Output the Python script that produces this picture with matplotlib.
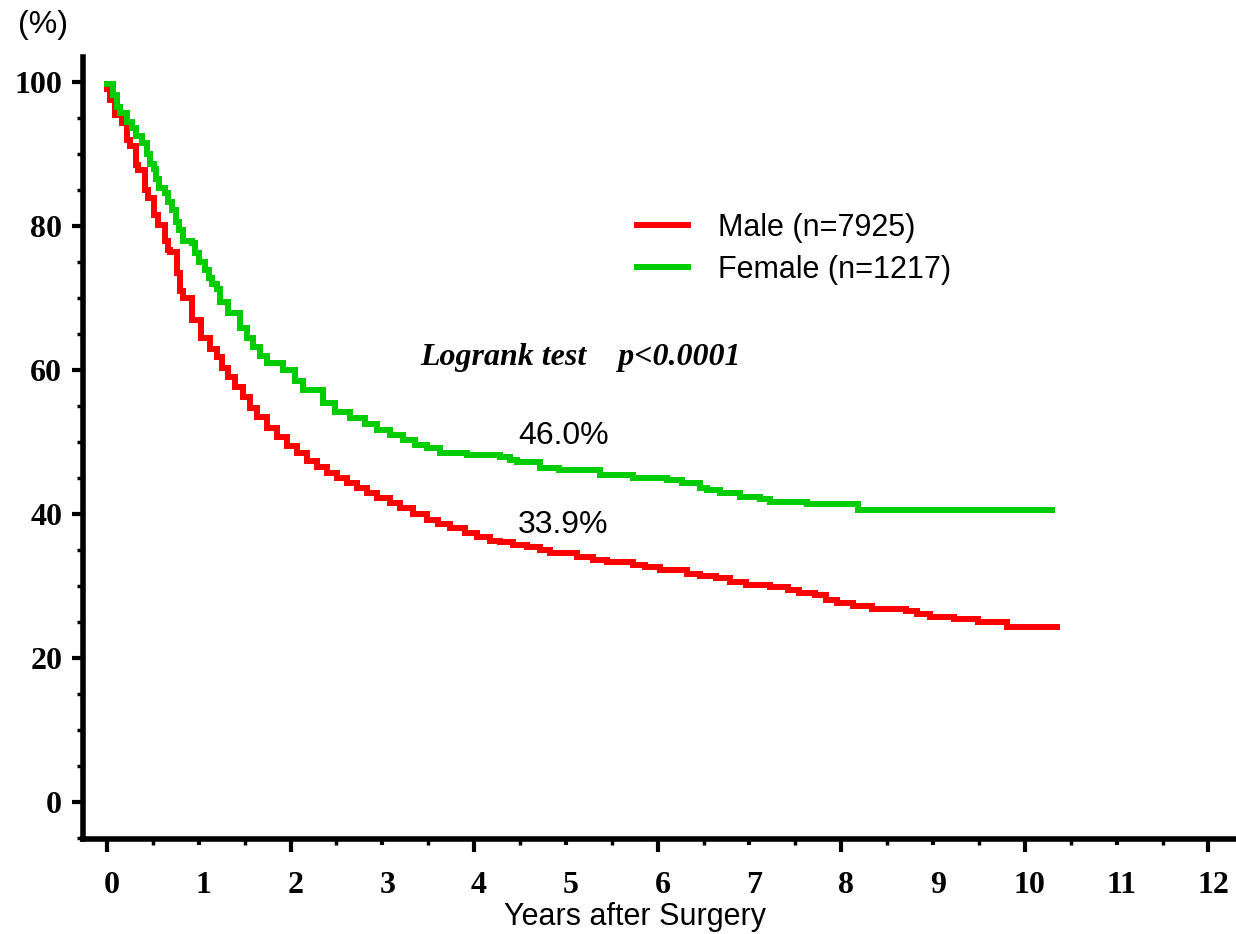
import matplotlib.pyplot as plt
from matplotlib.ticker import MultipleLocator
from matplotlib.transforms import ScaledTranslation

# Kaplan-Meier style survival (years, %)
male_years = [0.0, 0.03, 0.09, 0.16, 0.22, 0.25, 0.32, 0.34, 0.41, 0.45, 0.51, 0.56,
              0.63, 0.66, 0.69, 0.76, 0.80, 0.83, 0.93, 1.03, 1.12, 1.20, 1.25, 1.32,
              1.39, 1.48, 1.56, 1.63, 1.74, 1.85, 1.96, 2.07, 2.18, 2.29, 2.40, 2.51,
              2.61, 2.72, 2.83, 2.94, 3.08, 3.19, 3.33, 3.49, 3.61, 3.74, 3.90, 4.03,
              4.17, 4.28, 4.42, 4.58, 4.72, 4.83, 5.12, 5.29, 5.45, 5.73, 5.86, 6.02,
              6.32, 6.46, 6.64, 6.79, 6.96, 7.22, 7.42, 7.54, 7.71, 7.83, 7.95, 8.13,
              8.33, 8.70, 8.82, 8.97, 9.23, 9.49, 9.81, 10.35]
male_surv = [99.0, 97.5, 95.5, 94.3, 92.0, 91.2, 88.5, 87.8, 85.0, 83.9, 81.5, 80.1,
             78.0, 76.7, 76.4, 73.5, 71.0, 70.0, 67.0, 64.4, 63.0, 61.8, 60.3, 59.0,
             57.7, 56.3, 54.8, 53.5, 52.0, 50.7, 49.5, 48.5, 47.4, 46.5, 45.7, 45.0,
             44.3, 43.6, 42.9, 42.2, 41.5, 40.8, 40.0, 39.2, 38.6, 38.0, 37.4, 36.8,
             36.3, 36.1, 35.7, 35.4, 35.0, 34.6, 34.0, 33.6, 33.3, 32.9, 32.6, 32.2,
             31.7, 31.4, 31.1, 30.6, 30.1, 29.8, 29.4, 29.0, 28.7, 28.0, 27.6, 27.2,
             26.8, 26.5, 26.1, 25.7, 25.4, 25.0, 24.3, 24.3]

female_years = [0.0, 0.065, 0.11, 0.14, 0.22, 0.27, 0.32, 0.38, 0.44, 0.47, 0.51, 0.54,
                0.57, 0.63, 0.66, 0.71, 0.75, 0.78, 0.83, 0.93, 0.96, 1.0, 1.07, 1.11,
                1.15, 1.20, 1.23, 1.32, 1.45, 1.53, 1.59, 1.67, 1.74, 1.92, 2.05, 2.14,
                2.35, 2.48, 2.65, 2.81, 2.94, 3.08, 3.22, 3.36, 3.49, 3.63, 3.92, 4.28,
                4.39, 4.47, 4.72, 4.93, 5.37, 5.73, 6.10, 6.27, 6.46, 6.54, 6.68, 6.90,
                7.11, 7.22, 7.63, 8.18, 10.30]
female_surv = [99.8, 98.2, 96.5, 95.7, 94.5, 93.7, 92.5, 91.5, 90.0, 88.7, 88.0, 86.5,
               85.3, 84.6, 83.3, 82.2, 80.6, 79.5, 78.0, 77.6, 76.2, 75.0, 73.9, 72.8,
               72.0, 71.3, 69.5, 67.9, 65.8, 64.5, 63.2, 62.0, 61.0, 60.0, 58.5, 57.2,
               55.4, 54.2, 53.3, 52.5, 51.7, 51.0, 50.3, 49.6, 49.2, 48.5, 48.2, 47.9,
               47.5, 47.2, 46.4, 46.1, 45.4, 45.0, 44.7, 44.3, 43.6, 43.3, 42.9, 42.4,
               42.1, 41.7, 41.4, 40.6, 40.6]

labels = ["Male (n=7925)", "Female (n=1217)"]
colors = ["#ff0000", "#00cc00"]
five_year = ["46.0%", "33.9%"]

serif = "Liberation Serif"
sans = "Liberation Sans"

fig = plt.figure(figsize=(12.36, 9.34), dpi=100)
ax = fig.add_axes([0.0672, 0.1017, 0.9328, 0.8373])

ax.plot(male_years, male_surv, drawstyle="steps-post", color=colors[0], lw=4.3,
        label=labels[0], solid_joinstyle="miter")
ax.plot(female_years, female_surv, drawstyle="steps-post", color=colors[1], lw=4.3,
        label=labels[1], solid_joinstyle="miter")

ax.set_xlim(-0.26, 12.3)
ax.set_ylim(-5.14, 103.5)

for side in ["top", "right"]:
    ax.spines[side].set_visible(False)
for side in ["left", "bottom"]:
    ax.spines[side].set_linewidth(4)

ax.set_xticks(range(13))
ax.set_xticklabels([str(i) for i in range(13)], fontfamily=serif, fontweight="bold", fontsize=23)
ax.xaxis.set_minor_locator(MultipleLocator(0.5))
ax.set_yticks(range(0, 101, 20))
ax.set_yticklabels([str(i) for i in range(0, 101, 20)], fontfamily=serif, fontweight="bold", fontsize=23)
ax.yaxis.set_minor_locator(MultipleLocator(5))

ax.tick_params(axis="x", which="major", length=9, width=3, pad=14)
ax.tick_params(axis="x", which="minor", length=4.5, width=2.5)
ax.tick_params(axis="y", which="major", length=8, width=3, pad=7)
ax.tick_params(axis="y", which="minor", length=4, width=2.5)
for i, tick in enumerate(ax.xaxis.get_major_ticks()):
    if i % 2 == 1:
        tick.tick1line.set_markersize(4.5)

shift = ScaledTranslation(5 / 100, 0, fig.dpi_scale_trans)
for lab in ax.get_xticklabels():
    lab.set_transform(lab.get_transform() + shift)

fig.text(635 / 1236, 1 - 917 / 934, "Years after Surgery", fontfamily=sans, fontsize=22,
         ha="center", va="center")
fig.text(18 / 1236, 1 - 25 / 934, "(%)", fontfamily=sans, fontsize=23, ha="left", va="center")

ax.legend(loc="upper left", bbox_to_anchor=(637 / 1236, 1 - 213 / 934),
          bbox_transform=fig.transFigure, frameon=False, borderpad=0, borderaxespad=0,
          prop={"family": sans, "size": 22}, handlelength=1.67, handletextpad=0.98,
          labelspacing=0.38)

fig.text(420 / 1236, 1 - 357 / 934, "Logrank test    p<0.0001", fontfamily=serif,
         fontweight="bold", fontstyle="italic", fontsize=23, ha="left", va="center")
fig.text(518 / 1236, 1 - 436 / 934, five_year[0], fontfamily=sans, fontsize=23,
         ha="left", va="center")
fig.text(518 / 1236, 1 - 525 / 934, five_year[1], fontfamily=sans, fontsize=23,
         ha="left", va="center")

fig.savefig("out.png", dpi=100)
